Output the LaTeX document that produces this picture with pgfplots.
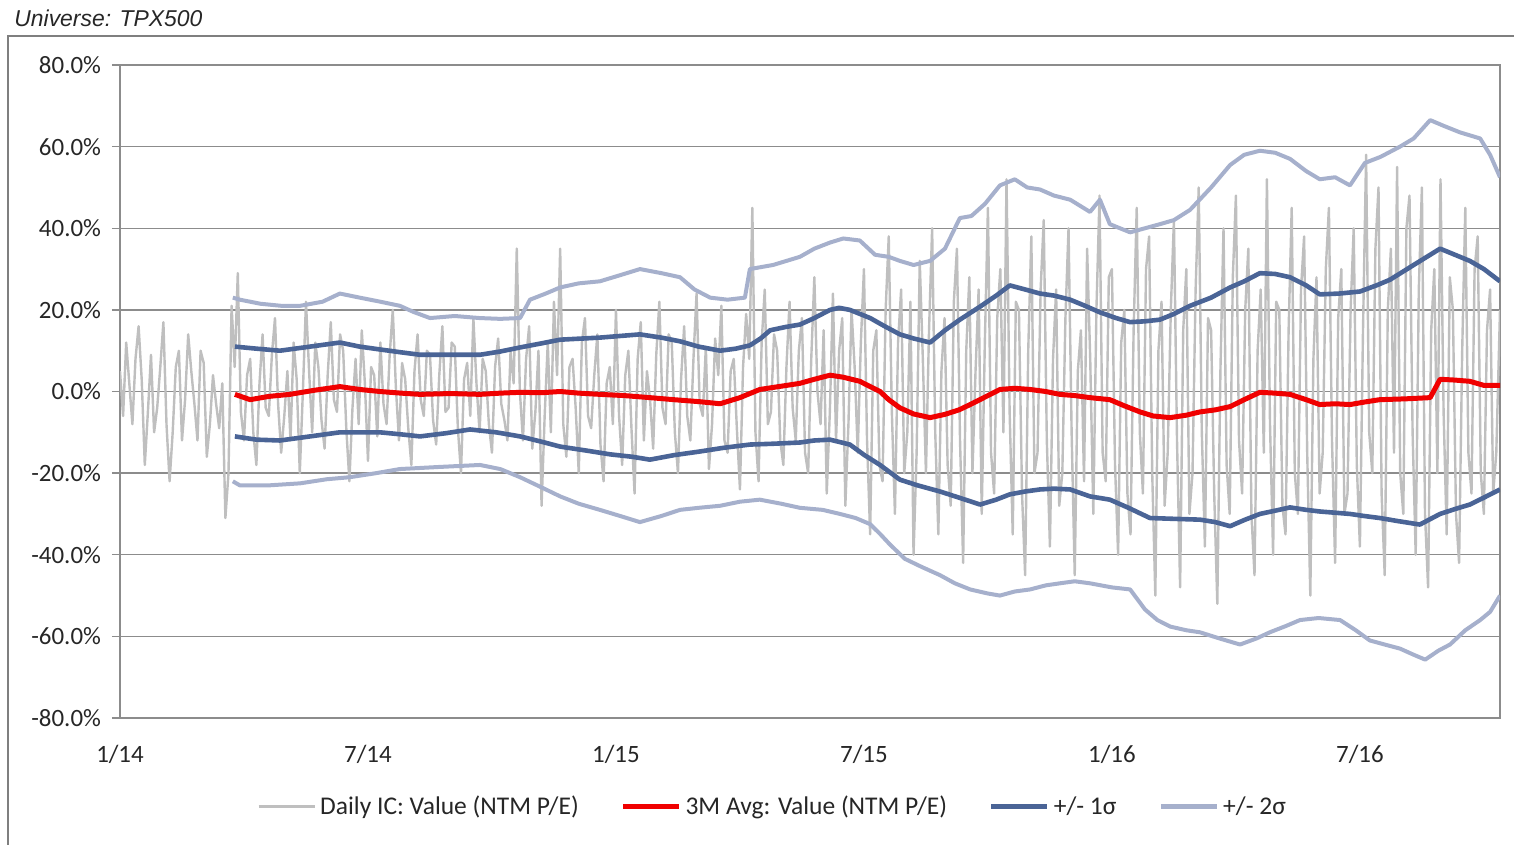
\documentclass[border=0pt]{standalone}
\usepackage{fontspec}
\setmainfont{Carlito}
\newfontfamily\arialfont{Liberation Sans}
\usepackage{pgfplots}
\usepackage{pgfplotstable}
\pgfplotsset{compat=1.18}
\definecolor{dailygray}{HTML}{BFBFBF}
\definecolor{avgred}{HTML}{F00000}
\definecolor{sigone}{HTML}{4A6496}
\definecolor{sigtwo}{HTML}{A6B0CC}
\definecolor{gridgray}{HTML}{8C8C8C}
\definecolor{framegray}{HTML}{7F7F7F}
\definecolor{txtgray}{HTML}{262626}

\pgfplotstableread{
x y
0.000 5
0.075 -6
0.150 12
0.225 2
0.300 -8
0.375 8
0.450 16
0.525 3
0.600 -18
0.675 -5
0.750 9
0.825 -10
0.900 -4
0.975 6
1.050 17
1.125 -8
1.200 -22
1.275 -10
1.350 6
1.425 10
1.500 -12
1.575 -2
1.650 14
1.725 5
1.800 -3
1.875 -12
1.950 10
2.025 7
2.100 -16
2.175 -8
2.250 4
2.325 -3
2.400 -9
2.475 2
2.550 -31
2.625 -20
2.700 21
2.775 6
2.850 29
2.925 -5
3.000 -12
3.075 4
3.150 8
3.225 -10
3.300 -18
3.375 2
3.450 14
3.525 -4
3.600 -6
3.675 9
3.750 18
3.825 -3
3.900 -15
3.975 -6
4.050 5
4.125 -12
4.200 12
4.275 3
4.350 -20
4.425 0
4.500 22
4.575 5
4.650 -10
4.725 12
4.800 6
4.875 -7
4.950 -14
5.025 4
5.100 17
5.175 -2
5.250 -5
5.325 14
5.400 10
5.475 -9
5.550 -22
5.625 -4
5.700 8
5.775 -8
5.850 15
5.925 2
6.000 -17
6.075 6
6.150 4
6.225 -11
6.300 12
6.375 -3
6.450 -8
6.525 9
6.600 20
6.675 1
6.750 -12
6.825 7
6.900 3
6.975 -9
7.050 -18
7.125 5
7.200 14
7.275 -2
7.350 -6
7.425 10
7.500 9
7.575 -7
7.650 -13
7.725 4
7.800 16
7.875 -5
7.950 -4
8.025 12
8.100 11
8.175 -9
8.250 -20
8.325 3
8.400 7
8.475 -6
8.550 18
8.625 2
8.700 -10
8.775 8
8.850 5
8.925 -8
9.000 -15
9.075 6
9.150 13
9.225 -3
9.300 -7
9.375 -12
9.450 10
9.525 2
9.600 35
9.675 0
9.750 -12
9.825 8
9.900 16
9.975 -14
10.050 -5
10.125 10
10.200 -28
10.275 -6
10.350 12
10.425 -10
10.500 22
10.575 4
10.650 35
10.725 -8
10.800 -16
10.875 6
10.950 8
11.025 -4
11.100 -20
11.175 12
11.250 18
11.325 -6
11.400 -9
11.475 4
11.550 14
11.625 -13
11.700 -22
11.775 2
11.850 6
11.925 -8
12.000 20
12.075 -6
12.150 -18
12.225 4
12.300 10
12.375 -9
12.450 -25
12.525 8
12.600 17
12.675 -12
12.750 5
12.825 -2
12.900 -14
12.975 9
13.050 22
13.125 -4
13.200 -8
13.275 14
13.350 12
13.425 -10
13.500 -20
13.575 3
13.650 16
13.725 -6
13.800 -12
13.875 8
13.950 24
14.025 -3
14.100 -6
14.175 11
14.250 -19
14.325 -8
14.400 13
14.475 4
14.550 21
14.625 -12
14.700 -15
14.775 5
14.850 8
14.925 -9
15.000 -24
15.075 6
15.150 19
15.225 8
15.300 45
15.375 -10
15.450 -22
15.525 12
15.600 25
15.675 -8
15.750 -5
15.825 14
15.900 10
15.975 -12
16.050 -18
16.125 6
16.200 22
16.275 -4
16.350 -12
16.425 10
16.500 18
16.575 -15
16.650 -20
16.725 8
16.800 28
16.875 0
16.950 -8
17.025 15
17.100 -25
17.175 -5
17.250 24
17.325 -12
17.400 10
17.475 18
17.550 -28
17.625 -8
17.700 20
17.775 6
17.850 -15
17.925 12
18.000 30
18.075 -12
18.150 -35
18.225 10
18.300 15
18.375 -18
18.450 -22
18.525 20
18.600 38
18.675 -5
18.750 -30
18.825 12
18.900 25
18.975 -20
19.050 -10
19.125 22
19.200 -40
19.275 -15
19.350 32
19.425 8
19.500 -20
19.575 15
19.650 40
19.725 -10
19.800 -35
19.875 5
19.950 18
20.025 -18
20.100 -28
20.175 22
20.250 35
20.325 -12
20.400 -42
20.475 10
20.550 28
20.625 -20
20.700 5
20.775 25
20.850 -30
20.925 12
21.000 45
21.075 -15
21.150 -25
21.225 18
21.300 30
21.375 -10
21.450 52
21.525 -5
21.600 -35
21.675 22
21.750 20
21.825 -25
21.900 -45
21.975 10
22.050 38
22.125 -20
22.200 -15
22.275 25
22.350 42
22.425 -12
22.500 -38
22.575 8
22.650 25
22.725 -28
22.800 -20
22.875 18
22.950 40
23.025 -10
23.100 -45
23.175 5
23.250 15
23.325 -22
23.400 35
23.475 8
23.550 -30
23.625 20
23.700 48
23.775 -15
23.850 -22
23.925 28
24.000 30
24.075 -18
24.150 -40
24.225 12
24.300 20
24.375 -25
24.450 -35
24.525 15
24.600 45
24.675 -10
24.750 -25
24.825 30
24.900 38
24.975 -20
25.050 -50
25.125 10
25.200 22
25.275 -28
25.350 -15
25.425 20
25.500 42
25.575 -12
25.650 -48
25.725 15
25.800 30
25.875 -30
25.950 -20
26.025 25
26.100 50
26.175 -10
26.250 -38
26.325 18
26.400 15
26.475 -25
26.550 -52
26.625 5
26.700 40
26.775 -18
26.850 -30
26.925 28
27.000 48
27.075 -12
27.150 -25
27.225 20
27.300 35
27.375 -30
27.450 -45
27.525 10
27.600 25
27.675 -15
27.750 52
27.825 -8
27.900 -40
27.975 22
28.050 20
28.125 -28
28.200 -35
28.275 15
28.350 45
28.425 -20
28.500 -30
28.575 25
28.650 38
28.725 -15
28.800 -50
28.875 8
28.950 28
29.025 -25
29.100 -15
29.175 30
29.250 45
29.325 -12
29.400 -42
29.475 18
29.550 30
29.625 -30
29.700 -25
29.775 20
29.850 40
29.925 -18
30.000 -38
30.075 15
30.150 58
30.225 -10
30.300 -20
30.375 35
30.450 50
30.525 -25
30.600 -45
30.675 20
30.750 35
30.825 -15
30.900 55
30.975 -20
31.050 -30
31.125 40
31.200 48
31.275 -10
31.350 -40
31.425 25
31.500 50
31.575 -30
31.650 -48
31.725 15
31.800 30
31.875 -20
31.950 52
32.025 -5
32.100 -35
32.175 28
32.250 20
32.325 -30
32.400 -42
32.475 10
32.550 45
32.625 -15
32.700 -25
32.775 30
32.850 38
32.925 -20
33.000 -30
33.075 15
33.150 25
33.225 -25
33.300 -15
33.390 20
}\dailytable

\pgfplotstableread{
x y
2.73 23
2.90 22.5
3.40 21.5
3.90 21
4.36 21
4.90 22
5.32 24
5.80 23
6.30 22
6.77 21
7.10 19.5
7.50 18
8.10 18.5
8.70 18
9.20 17.8
9.68 18
9.92 22.5
10.30 24
10.65 25.5
11.10 26.5
11.61 27
12.10 28.5
12.58 30
13.10 29
13.55 28
13.90 25
14.28 23
14.70 22.5
15.12 23
15.24 30
15.80 31
16.45 33
16.80 35
17.18 36.5
17.50 37.5
17.90 37
18.27 33.5
18.60 33
18.87 32
19.20 31
19.60 32
19.96 35
20.32 42.5
20.60 43
20.93 46
21.29 50.5
21.65 52
21.95 50
22.26 49.5
22.60 48
22.99 47
23.47 44
23.71 47
23.95 41
24.44 39
24.80 40
25.16 41
25.50 42
25.89 44.5
26.40 50
26.86 55.5
27.20 58
27.58 59
27.95 58.5
28.31 57
28.70 54
29.03 52
29.40 52.5
29.76 50.5
30.12 56
30.50 57.5
30.97 60
31.30 62
31.70 66.5
32.05 65
32.42 63.5
32.91 62
33.15 58
33.39 52.5
}\sigtwoup

\pgfplotstableread{
x y
2.73 -22
2.90 -23
3.60 -23
4.36 -22.5
5.00 -21.5
5.56 -21
6.20 -20
6.77 -19
7.70 -18.5
8.71 -18
9.20 -19
9.68 -21
10.20 -23.5
10.65 -25.7
11.10 -27.5
11.61 -29
12.10 -30.5
12.58 -32
13.10 -30.5
13.55 -29
14.00 -28.5
14.52 -28
15.00 -27
15.48 -26.5
16.00 -27.5
16.45 -28.5
17.00 -29
17.42 -30
17.80 -31
18.15 -32.5
18.40 -35
18.63 -37.5
18.99 -41
19.40 -43
19.84 -45
20.20 -47
20.57 -48.5
21.00 -49.5
21.29 -50
21.65 -49
22.02 -48.5
22.40 -47.5
22.74 -47
23.10 -46.5
23.47 -47
24.00 -48
24.44 -48.5
24.80 -53.4
25.10 -56
25.41 -57.6
25.80 -58.5
26.13 -59
26.60 -60.5
27.10 -62
27.50 -60.5
27.82 -59
28.20 -57.5
28.55 -56
29.00 -55.5
29.52 -56
29.90 -58.5
30.24 -61
30.60 -62
30.97 -63
31.30 -64.5
31.58 -65.7
31.90 -63.5
32.18 -62
32.55 -58.5
32.91 -56
33.15 -54
33.39 -50
}\sigtwodown

\pgfplotstableread{
x y
2.78 11
3.30 10.5
3.87 10
4.60 11
5.32 12
5.80 11
6.29 10.3
6.80 9.6
7.26 9
8.00 9
8.71 9
9.20 9.8
9.68 10.8
10.20 11.8
10.65 12.7
11.60 13.2
12.58 14
13.10 13.2
13.55 12.3
14.00 11
14.52 10
14.90 10.5
15.24 11.3
15.50 13
15.73 15
16.10 15.8
16.45 16.4
16.80 18
17.18 20
17.40 20.5
17.66 20
18.15 18
18.50 16
18.87 14
19.20 13
19.60 12
19.96 15
20.32 17.6
20.81 20.8
21.20 23.5
21.53 26
21.90 25
22.26 24
22.60 23.5
22.99 22.5
23.35 21
23.71 19.4
24.10 18
24.44 17
24.80 17.2
25.16 17.6
25.50 19
25.89 21
26.40 23
26.86 25.5
27.20 27
27.58 29
27.95 28.8
28.31 28
28.70 26
29.03 23.8
29.50 24
30.00 24.5
30.40 26
30.73 27.4
31.30 31
31.94 35
32.30 33.5
32.66 32
33.00 30
33.39 27
}\sigoneup

\pgfplotstableread{
x y
2.78 -11
3.30 -11.8
3.87 -12
4.60 -11
5.32 -10
5.80 -10
6.29 -10
6.80 -10.5
7.26 -11
7.90 -10.2
8.47 -9.3
9.10 -10
9.68 -11
10.20 -12.3
10.65 -13.5
11.30 -14.5
11.86 -15.4
12.40 -16
12.82 -16.7
13.40 -15.6
14.03 -14.7
14.60 -13.8
15.24 -13
15.80 -12.8
16.45 -12.5
16.80 -12
17.18 -11.8
17.66 -13
18.00 -15.5
18.39 -18
18.87 -21.6
19.30 -23
19.84 -24.5
20.30 -26
20.81 -27.7
21.20 -26.5
21.53 -25.2
21.90 -24.5
22.26 -24
22.60 -23.8
22.99 -24
23.47 -25.7
23.95 -26.5
24.40 -28.5
24.92 -31
25.50 -31.2
26.13 -31.4
26.50 -32
26.86 -33
27.20 -31.5
27.58 -30
27.95 -29.2
28.31 -28.4
28.70 -29
29.03 -29.4
29.40 -29.7
29.76 -30
30.10 -30.5
30.48 -31
30.95 -31.8
31.45 -32.6
31.94 -30
32.30 -28.8
32.66 -27.7
33.00 -26
33.39 -24
}\sigonedown

\pgfplotstableread{
x y
2.78 -0.7
3.15 -2
3.60 -1.2
4.11 -0.7
4.70 0.3
5.32 1.2
5.80 0.5
6.29 0
6.80 -0.4
7.26 -0.7
8.00 -0.5
8.71 -0.7
9.20 -0.4
9.68 -0.2
10.20 -0.3
10.65 0
11.10 -0.4
11.61 -0.7
12.20 -1
12.82 -1.5
13.40 -2
14.03 -2.5
14.52 -3
15.00 -1.5
15.48 0.5
16.00 1.3
16.45 2
16.80 3
17.18 4
17.50 3.5
17.90 2.5
18.15 1.2
18.39 0
18.60 -2
18.87 -4
19.20 -5.5
19.60 -6.4
19.96 -5.6
20.30 -4.5
20.57 -3.2
21.00 -1
21.29 0.5
21.65 0.8
22.02 0.5
22.40 0
22.74 -0.7
23.10 -1
23.47 -1.5
23.95 -2
24.30 -3.5
24.68 -5
25.00 -6
25.41 -6.4
25.80 -5.8
26.13 -5
26.50 -4.5
26.86 -3.7
27.20 -2
27.58 -0.2
27.95 -0.4
28.31 -0.7
28.70 -2
29.03 -3.2
29.40 -3
29.76 -3.2
30.10 -2.6
30.48 -2
31.10 -1.8
31.70 -1.5
31.94 3
32.30 2.8
32.66 2.5
33.00 1.5
33.39 1.5
}\avgtable

\begin{document}
\begin{tikzpicture}
\useasboundingbox (0,0) rectangle (757bp,422.5bp);
\draw[color=framegray, line width=0.8bp] (4bp,-2bp) -- (4bp,404.5bp) -- (760bp,404.5bp);
\node[anchor=base west, inner sep=0pt, text=txtgray, font=\arialfont\itshape\fontsize{11.5}{13}\selectfont] at (7bp,409bp) {Universe: TPX500};
\begin{axis}[
  at={(60bp,63.5bp)}, anchor=south west,
  scale only axis, width=690bp, height=326.5bp,
  xmin=0, xmax=33.39, ymin=-80, ymax=80,
  axis line style={color=gridgray, line width=0.7bp},
  ymajorgrids, grid style={color=gridgray, line width=0.7bp},
  xtick={0,6,12,18,24,30},
  xticklabels={1/14,7/14,1/15,7/15,1/16,7/16},
  ytick={-80,-60,-40,-20,0,20,40,60,80},
  yticklabels={-80.0\%,-60.0\%,-40.0\%,-20.0\%,0.0\%,20.0\%,40.0\%,60.0\%,80.0\%},
  xtick style={draw=none},
  ytick pos=left, tick align=outside, major tick length=4bp,
  ytick style={color=gridgray, line width=0.7bp},
  ticklabel style={font=\fontsize{12.5}{14}\selectfont, text=txtgray},
  yticklabel style={xshift=-2bp},
  xticklabel style={yshift=-6bp},
  legend columns=4,
  legend style={draw=none, fill=none, at={(0.4735,-0.136)}, anchor=center,
    font=\fontsize{12.8}{15}\selectfont, text=txtgray,
    /tikz/every even column/.append style={column sep=19bp}},
  legend cell align=left,
  legend image code/.code={\draw[#1] (0bp,0bp) -- (28bp,0bp);},
]
\addlegendimage{color=dailygray, line width=1.6bp}
\addlegendentry{Daily IC: Value (NTM P/E)}
\addlegendimage{color=avgred, line width=2.4bp}
\addlegendentry{3M Avg: Value (NTM P/E)}
\addlegendimage{color=sigone, line width=2.4bp}
\addlegendentry{+/- 1σ}
\addlegendimage{color=sigtwo, line width=2.4bp}
\addlegendentry{+/- 2σ}

\addplot[forget plot, color=dailygray, line width=1.2bp, line join=round] table[x=x,y=y] {\dailytable};
\addplot[forget plot, color=sigtwo, line width=2bp, line join=round] table[x=x,y=y] {\sigtwoup};
\addplot[forget plot, color=sigtwo, line width=2bp, line join=round] table[x=x,y=y] {\sigtwodown};
\addplot[forget plot, color=sigone, line width=2.3bp, line join=round] table[x=x,y=y] {\sigoneup};
\addplot[forget plot, color=sigone, line width=2.3bp, line join=round] table[x=x,y=y] {\sigonedown};
\addplot[forget plot, color=avgred, line width=2.5bp, line join=round] table[x=x,y=y] {\avgtable};
\end{axis}
\end{tikzpicture}
\end{document}
